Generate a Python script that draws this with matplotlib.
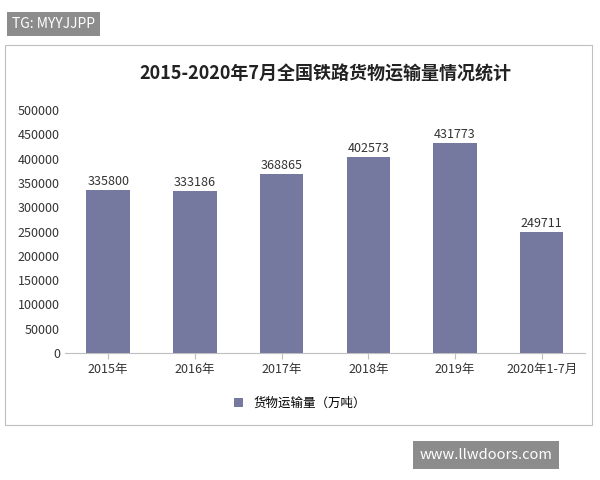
import matplotlib
matplotlib.use("Agg")
import matplotlib.pyplot as plt
from matplotlib.patches import Rectangle

plt.rcParams['font.family'] = ['Noto Sans CJK SC', 'DejaVu Sans']

categories = ['2015年', '2016年', '2017年', '2018年', '2019年', '2020年1-7月']
values = [335800, 333186, 368865, 402573, 431773, 249711]
yticks = list(range(0, 500001, 50000))

fig = plt.figure(figsize=(6, 4.8), dpi=100)
fig.patches.append(Rectangle((5/600, 1-425/480), 587/600, 380/480, transform=fig.transFigure,
                             fill=False, edgecolor='#bfbfbf', lw=0.8))
ax = fig.add_axes([0.108, 0.2646, 0.867, 0.506])
color = '#7579a0'
x = range(len(categories))
ax.bar(x, values, width=0.5, color=color, label='货物运输量（万吨）', zorder=3)
for xi, v in zip(x, values):
    ax.text(xi, v + 4000, str(v), ha='center', va='bottom', fontsize=9, color='#333333')
ax.set_xticks(list(x))
ax.set_xticklabels(categories, fontsize=9, color='#333333')
ax.set_yticks(yticks)
ax.set_yticklabels([str(t) for t in yticks], fontsize=9, color='#333333')
ax.set_ylim(0, 500000)
ax.set_xlim(-0.5, len(categories) - 0.5)
for s in ['top', 'right', 'left']:
    ax.spines[s].set_visible(False)
ax.spines['bottom'].set_color('#bfbfbf')
ax.tick_params(axis='y', length=0)
ax.tick_params(axis='x', length=4, color='#bfbfbf')
ax.set_title('2015-2020年7月全国铁路货物运输量情况统计', fontsize=13, fontweight='bold', pad=22, color='#222222')
fig.legend(loc='center', bbox_to_anchor=(0.5, 1-403/480), frameon=False, fontsize=9,
           handlelength=0.7, handleheight=0.7)

fig.text(12/600, 1-24/480, 'TG: MYYJJPP', fontsize=10, color='white', va='center',
         bbox=dict(boxstyle='square,pad=0.35', fc='#8c8c8c', ec='none'))
fig.text(420/600, 1-455/480, 'www.llwdoors.com', fontsize=10.5, color='white', va='center',
         bbox=dict(boxstyle='square,pad=0.45', fc='#8c8c8c', ec='none'))
fig.savefig('out.png', dpi=100, facecolor='white')
